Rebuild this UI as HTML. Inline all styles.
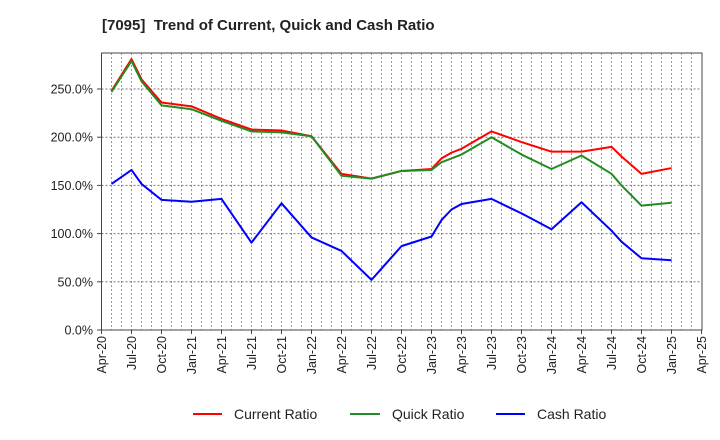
<!DOCTYPE html>
<html><head><meta charset="utf-8"><style>
body{margin:0;background:#fff;}
svg{font-family:"Liberation Sans",Arial,sans-serif;display:block}
</style></head><body>
<svg id="chart" width="720" height="440" xmlns="http://www.w3.org/2000/svg">
<text x="102" y="30" font-size="15" font-weight="bold" fill="#222" style="white-space:pre">[7095]  Trend of Current, Quick and Cash Ratio</text>
<g id="grid"></g><g id="axes"></g><g id="series"></g>
<rect x="101.5" y="53" width="600.5" height="277" fill="none" stroke="#444" stroke-width="1"/>
<g>
<g><line x1="193" y1="414" x2="222" y2="414" stroke="#f00" stroke-width="2"/><text x="234" y="419" font-size="14" fill="#222">Current Ratio</text></g>
<g><line x1="350" y1="414" x2="380" y2="414" stroke="#228b22" stroke-width="2"/><text x="392" y="419" font-size="14" fill="#222">Quick Ratio</text></g>
<g><line x1="496" y1="414" x2="525" y2="414" stroke="#00f" stroke-width="2"/><text x="537" y="419" font-size="14" fill="#222">Cash Ratio</text></g>
</g>
</svg>
<script>
const months=[1,3,4,6,9,12,15,18,21,24,27,30,33,34,35,36,39,42,45,48,51,52,54,57];
const currentRatio=[248,281,260,236,232,219,208,207,201,162,157,165,167,178,184,188,206,195,185,185,190,180,162,168];
const quickRatio=[247,279,258,233,229,217,206,205,201,160,157,165,166,174,178,182,200,182,167,181,162,150,129,132];
const cashRatio=[151.5,166,151.5,135,133,136,90.6,131.4,96,82,52,87,97,114,125,130.7,136,121,104.5,132.5,103,91.6,74.4,72.3];
const yTicks=[0,50,100,150,200,250];
const xTickLabels=["Apr-20","Jul-20","Oct-20","Jan-21","Apr-21","Jul-21","Oct-21","Jan-22","Apr-22","Jul-22","Oct-22","Jan-23","Apr-23","Jul-23","Oct-23","Jan-24","Apr-24","Jul-24","Oct-24","Jan-25","Apr-25","Jul-25"];
const NS="http://www.w3.org/2000/svg";
const X0=101.5,PX=10,Y0=330,PY=0.964;
const xs=m=>X0+m*PX, ys=v=>Y0-v*PY;
function mk(t,a,p){const e=document.createElementNS(NS,t);for(const k in a)e.setAttribute(k,a[k]);p.appendChild(e);return e;}
const grid=document.getElementById('grid'),axes=document.getElementById('axes'),ser=document.getElementById('series');
for(let m=1;m<60;m++){const l=mk('line',{x1:xs(m),x2:xs(m),y1:53,y2:330,stroke:'#999','stroke-dasharray':'2,2','stroke-width':1},grid);

}
yTicks.forEach(v=>{const l=mk('line',{x1:101.5,x2:702,y1:ys(v),y2:ys(v),stroke:'#777','stroke-dasharray':'2,2','stroke-width':1},grid);


mk('line',{x1:97,x2:101.5,y1:ys(v),y2:ys(v),stroke:'#444'},axes);
const t=mk('text',{x:93,y:ys(v)+4.5,'text-anchor':'end','font-size':12.5,fill:'#222'},axes);t.textContent=v.toFixed(1)+'%';

});
xTickLabels.forEach((s,i)=>{const x=xs(i*3);mk('line',{x1:x,x2:x,y1:330,y2:334,stroke:'#444'},axes);
const t=mk('text',{x:0,y:0,'text-anchor':'end','font-size':12.5,fill:'#222',transform:`translate(${x+4.5},336) rotate(-90)`},axes);t.textContent=s;

});
[[currentRatio,'#f00','current-ratio-line'],[quickRatio,'#228b22','quick-ratio-line'],[cashRatio,'#00f','cash-ratio-line']].forEach(([d,c,n])=>{
const p=mk('polyline',{points:d.map((v,i)=>xs(months[i])+','+ys(v)).join(' '),fill:'none',stroke:c,'stroke-width':2,'stroke-linejoin':'round'},ser);

});
</script>
</body></html>
